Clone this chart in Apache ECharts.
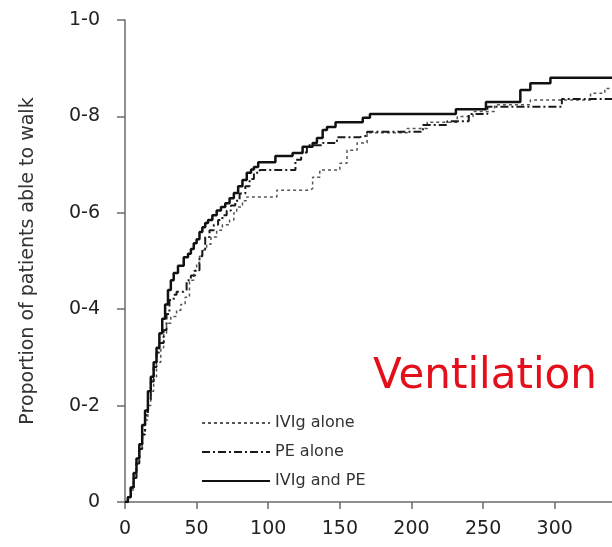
<!DOCTYPE html>
<html>
<head>
<meta charset="utf-8">
<script src="https://cdn.jsdelivr.net/npm/echarts@6/dist/echarts.min.js"></script>
<style>
  html, body { margin: 0; padding: 0; background: #fff; }
  #chart { width: 612px; height: 547px; }
</style>
</head>
<body>
<div id="chart"></div>
<script>
  // Kaplan-Meier style step curves: days since randomisation vs proportion able to walk
  const ivigDays = [0, 2, 4, 6, 8, 10, 12, 14, 16, 18, 20, 22, 25, 27, 29, 32, 36, 39, 42, 45,
    48, 50, 52, 54, 57, 60, 64, 68, 73, 76, 78, 82, 85, 106, 129, 131, 136, 150, 155, 162,
    169, 197, 211, 232, 243, 258, 283, 325, 335, 340]
  const ivigProp = [0, 0.01, 0.025, 0.05, 0.08, 0.11, 0.14, 0.17, 0.2, 0.23, 0.26, 0.29, 0.32, 0.35, 0.371, 0.385, 0.398, 0.41, 0.425, 0.46,
    0.48, 0.496, 0.51, 0.523, 0.535, 0.55, 0.564, 0.575, 0.585, 0.6, 0.612, 0.625, 0.633, 0.647, 0.65, 0.674, 0.689, 0.703, 0.73, 0.745,
    0.766, 0.775, 0.788, 0.8, 0.81, 0.824, 0.834, 0.848, 0.858, 0.858]

  const peDays = [0, 2, 4, 6, 8, 10, 12, 14, 16, 18, 20, 22, 24, 27, 29, 31, 34, 36, 41, 43,
    46, 49, 52, 54, 56, 59, 62, 65, 68, 71, 74, 77, 80, 84, 87, 90, 94, 119, 123, 127,
    138, 148, 164, 169, 208, 225, 240, 253, 305, 340]
  const peProp = [0, 0.01, 0.03, 0.05, 0.08, 0.11, 0.14, 0.18, 0.21, 0.25, 0.28, 0.31, 0.33, 0.357, 0.39, 0.419, 0.43, 0.436, 0.44, 0.46,
    0.47, 0.481, 0.51, 0.523, 0.55, 0.564, 0.575, 0.585, 0.595, 0.605, 0.615, 0.625, 0.64, 0.655, 0.67, 0.683, 0.689, 0.71, 0.725, 0.74,
    0.745, 0.757, 0.76, 0.768, 0.782, 0.79, 0.805, 0.82, 0.836, 0.836]

  const bothDays = [0, 2, 4, 6, 8, 10, 12, 14, 16, 18, 20, 22, 24, 26, 28, 30, 32, 34, 37, 41,
    44, 46, 48, 50, 52, 54, 56, 58, 61, 64, 67, 70, 73, 76, 79, 82, 85, 88, 90, 93,
    105, 117, 124, 131, 134, 138, 141, 147, 166, 171, 231, 252, 276, 283, 297, 340]
  const bothProp = [0, 0.01, 0.03, 0.06, 0.09, 0.12, 0.16, 0.19, 0.23, 0.26, 0.29, 0.32, 0.35, 0.38, 0.41, 0.44, 0.46, 0.475, 0.49, 0.508,
    0.515, 0.525, 0.537, 0.545, 0.56, 0.57, 0.579, 0.585, 0.595, 0.605, 0.612, 0.62, 0.63, 0.641, 0.655, 0.668, 0.683, 0.69, 0.695, 0.705,
    0.718, 0.724, 0.737, 0.745, 0.755, 0.772, 0.778, 0.788, 0.797, 0.805, 0.815, 0.83, 0.855, 0.869, 0.88, 0.88]

  const seriesNames = ['IVIg alone', 'PE alone', 'IVIg and PE']
  const yTickValues = [0, 0.2, 0.4, 0.6, 0.8, 1.0]
  const yTickLabels = ['0', '0-2', '0-4', '0-6', '0-8', '1-0']

  const pairs = (xs, ys) => xs.map((x, i) => [x, ys[i]])

  const axisColor = '#6f6a66'
  const chart = echarts.init(document.getElementById('chart'))

  chart.setOption({
    animation: false,
    title: {
      text: 'Ventilation',
      left: 368,
      top: 351,
      textStyle: {
        fontFamily: 'DejaVu Sans',
        fontSize: 42,
        fontWeight: 'normal',
        color: '#e3101c'
      }
    },
    grid: {
      left: 125,
      right: 0,
      top: 20,
      bottom: 45
    },
    legend: {
      orient: 'vertical',
      left: 196,
      top: 410,
      itemWidth: 68,
      itemHeight: 14,
      itemGap: 13,
      itemStyle: { opacity: 0 },
      data: seriesNames,
      textStyle: {
        fontFamily: 'DejaVu Sans',
        fontSize: 16,
        color: '#333'
      }
    },
    xAxis: {
      type: 'value',
      min: 0,
      max: 340,
      interval: 50,
      offset: 6,
      splitLine: { show: false },
      axisLine: { lineStyle: { color: axisColor, width: 1.5 } },
      axisTick: { length: 7, lineStyle: { color: axisColor, width: 1.5 } },
      axisLabel: {
        showMaxLabel: false,
        margin: 12,
        fontFamily: 'DejaVu Sans',
        fontSize: 19,
        color: '#222',
        formatter: v => (v % 50 === 0 ? String(v) : '')
      }
    },
    yAxis: {
      type: 'value',
      min: 0,
      max: 1,
      interval: 0.2,
      offset: 5,
      name: 'Proportion of patients able to walk',
      nameLocation: 'middle',
      nameGap: 82,
      nameTextStyle: {
        fontFamily: 'DejaVu Sans',
        fontSize: 19,
        color: '#333'
      },
      splitLine: { show: false },
      axisLine: { show: true, lineStyle: { color: axisColor, width: 1.5 } },
      axisTick: { show: true, length: 8, lineStyle: { color: axisColor, width: 1.5 } },
      axisLabel: {
        margin: 20,
        fontFamily: 'DejaVu Sans',
        fontSize: 19,
        color: '#222',
        formatter: v => {
          const i = yTickValues.findIndex(t => Math.abs(t - v) < 1e-6)
          return i >= 0 ? yTickLabels[i] : ''
        }
      }
    },
    series: [
      {
        name: seriesNames[0],
        type: 'line',
        step: 'end',
        symbol: 'none',
        z: 2,
        lineStyle: { color: '#555', width: 1.5, type: [3, 3] },
        data: pairs(ivigDays, ivigProp)
      },
      {
        name: seriesNames[1],
        type: 'line',
        step: 'end',
        symbol: 'none',
        z: 3,
        lineStyle: { color: '#1a1a1a', width: 2, type: [8, 3, 2, 3] },
        data: pairs(peDays, peProp)
      },
      {
        name: seriesNames[2],
        type: 'line',
        step: 'end',
        symbol: 'none',
        z: 4,
        lineStyle: { color: '#111', width: 2.5 },
        data: pairs(bothDays, bothProp)
      }
    ]
  })
</script>
</body>
</html>
